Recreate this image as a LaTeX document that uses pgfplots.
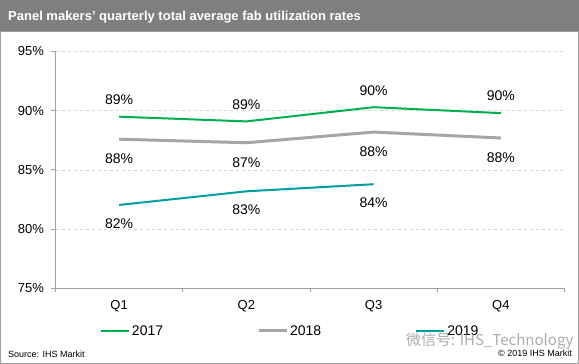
\documentclass[border=0pt]{standalone}
\usepackage{pgfplots}
\pgfplotsset{compat=1.18}
\usepackage{fontspec}
\setmainfont{Liberation Sans}
\newfontfamily\cjk{Noto Sans CJK SC}
\definecolor{cA}{HTML}{00B050}
\definecolor{cB}{HTML}{A6A6A6}
\definecolor{cC}{HTML}{009E9E}
\definecolor{titlegray}{HTML}{7F7F7F}
\definecolor{axisgray}{HTML}{A0A0A0}
\definecolor{gridgray}{HTML}{D4D4D4}
\begin{document}
\begin{tikzpicture}[x=1pt,y=1pt]
\fill[white] (0,0) rectangle (579,364);
\fill[titlegray] (0,333) rectangle (579,364);
\draw[axisgray, line width=1pt] (0.5,0.5) rectangle (578.5,332.5);
\node[anchor=west, text=white, inner sep=0pt, font=\bfseries\fontsize{13}{15}\selectfont] at (8,347) {Panel makers' quarterly total average fab utilization rates};
\node[anchor=west, inner sep=0pt, font=\fontsize{9}{11}\selectfont] at (8,10) {Source: IHS Markit};
\node[anchor=east, inner sep=0pt, font=\fontsize{9}{11}\selectfont] at (572,11) {© 2019 IHS Markit};
\begin{axis}[
  at={(55.5pt,75.5pt)}, anchor=south west,
  scale only axis, width=509pt, height=237pt,
  xmin=0.5, xmax=4.5, ymin=75, ymax=95,
  axis x line*=bottom, axis y line*=left,
  axis line style={draw=axisgray, line width=1pt, -},
  xtick={1,2,3,4}, xticklabels={Q1,Q2,Q3,Q4},
  minor xtick={0.5,1.5,2.5,3.5,4.5},
  major x tick style={draw=none},
  minor x tick style={draw=axisgray, line width=1pt},
  ytick={75,80,85,90,95},
  yticklabel={\pgfmathprintnumber{\tick}\%},
  y tick style={draw=axisgray, line width=1pt},
  tick align=outside, major tick length=4pt, minor tick length=4pt,
  ymajorgrids, grid style={draw=gridgray, dashed, line width=0.8pt},
  /pgf/number format/assume math mode=true,
  tick label style={font=\fontsize{13}{15}\selectfont, text=black},
  yticklabel style={xshift=-4pt},
  xticklabel style={yshift=-4pt},
  clip=false,
  legend columns=3,
  legend style={at={(axis description cs:0.087,-0.179)}, anchor=west, draw=none, fill=none,
    inner sep=0pt, font=\fontsize{14}{16}\selectfont,
    /tikz/every even column/.append style={column sep=92pt}},
  legend image code/.code={\draw[#1] (0pt,0pt) -- (28pt,0pt);},
  nodes near coords, point meta=explicit symbolic,
  nodes near coords style={font=\fontsize{14}{16}\selectfont, text=black, anchor=center},
]
\addplot[cA, line width=2pt, every node near coord/.append style={yshift=17pt, anchor=center}]
  coordinates {(1,89.5)[89\%] (2,89.1)[89\%] (3,90.3)[90\%] (4,89.8)[90\%]};
\addlegendentry{2017}
\addplot[cB, line width=3pt, every node near coord/.append style={yshift=-19.5pt, anchor=center}]
  coordinates {(1,87.6)[88\%] (2,87.3)[87\%] (3,88.2)[88\%] (4,87.7)[88\%]};
\addlegendentry{2018}
\addplot[cC, line width=2pt, every node near coord/.append style={yshift=-18.5pt, anchor=center}]
  coordinates {(1,82.05)[82\%] (2,83.2)[83\%] (3,83.8)[84\%]};
\addlegendentry{2019}
\end{axis}
\node[anchor=west, inner sep=0pt, text=gray!75, opacity=0.85, font=\cjk\fontsize{15}{17}\selectfont] at (406,23) {微信号: IHS\_Technology};
\end{tikzpicture}
\end{document}
